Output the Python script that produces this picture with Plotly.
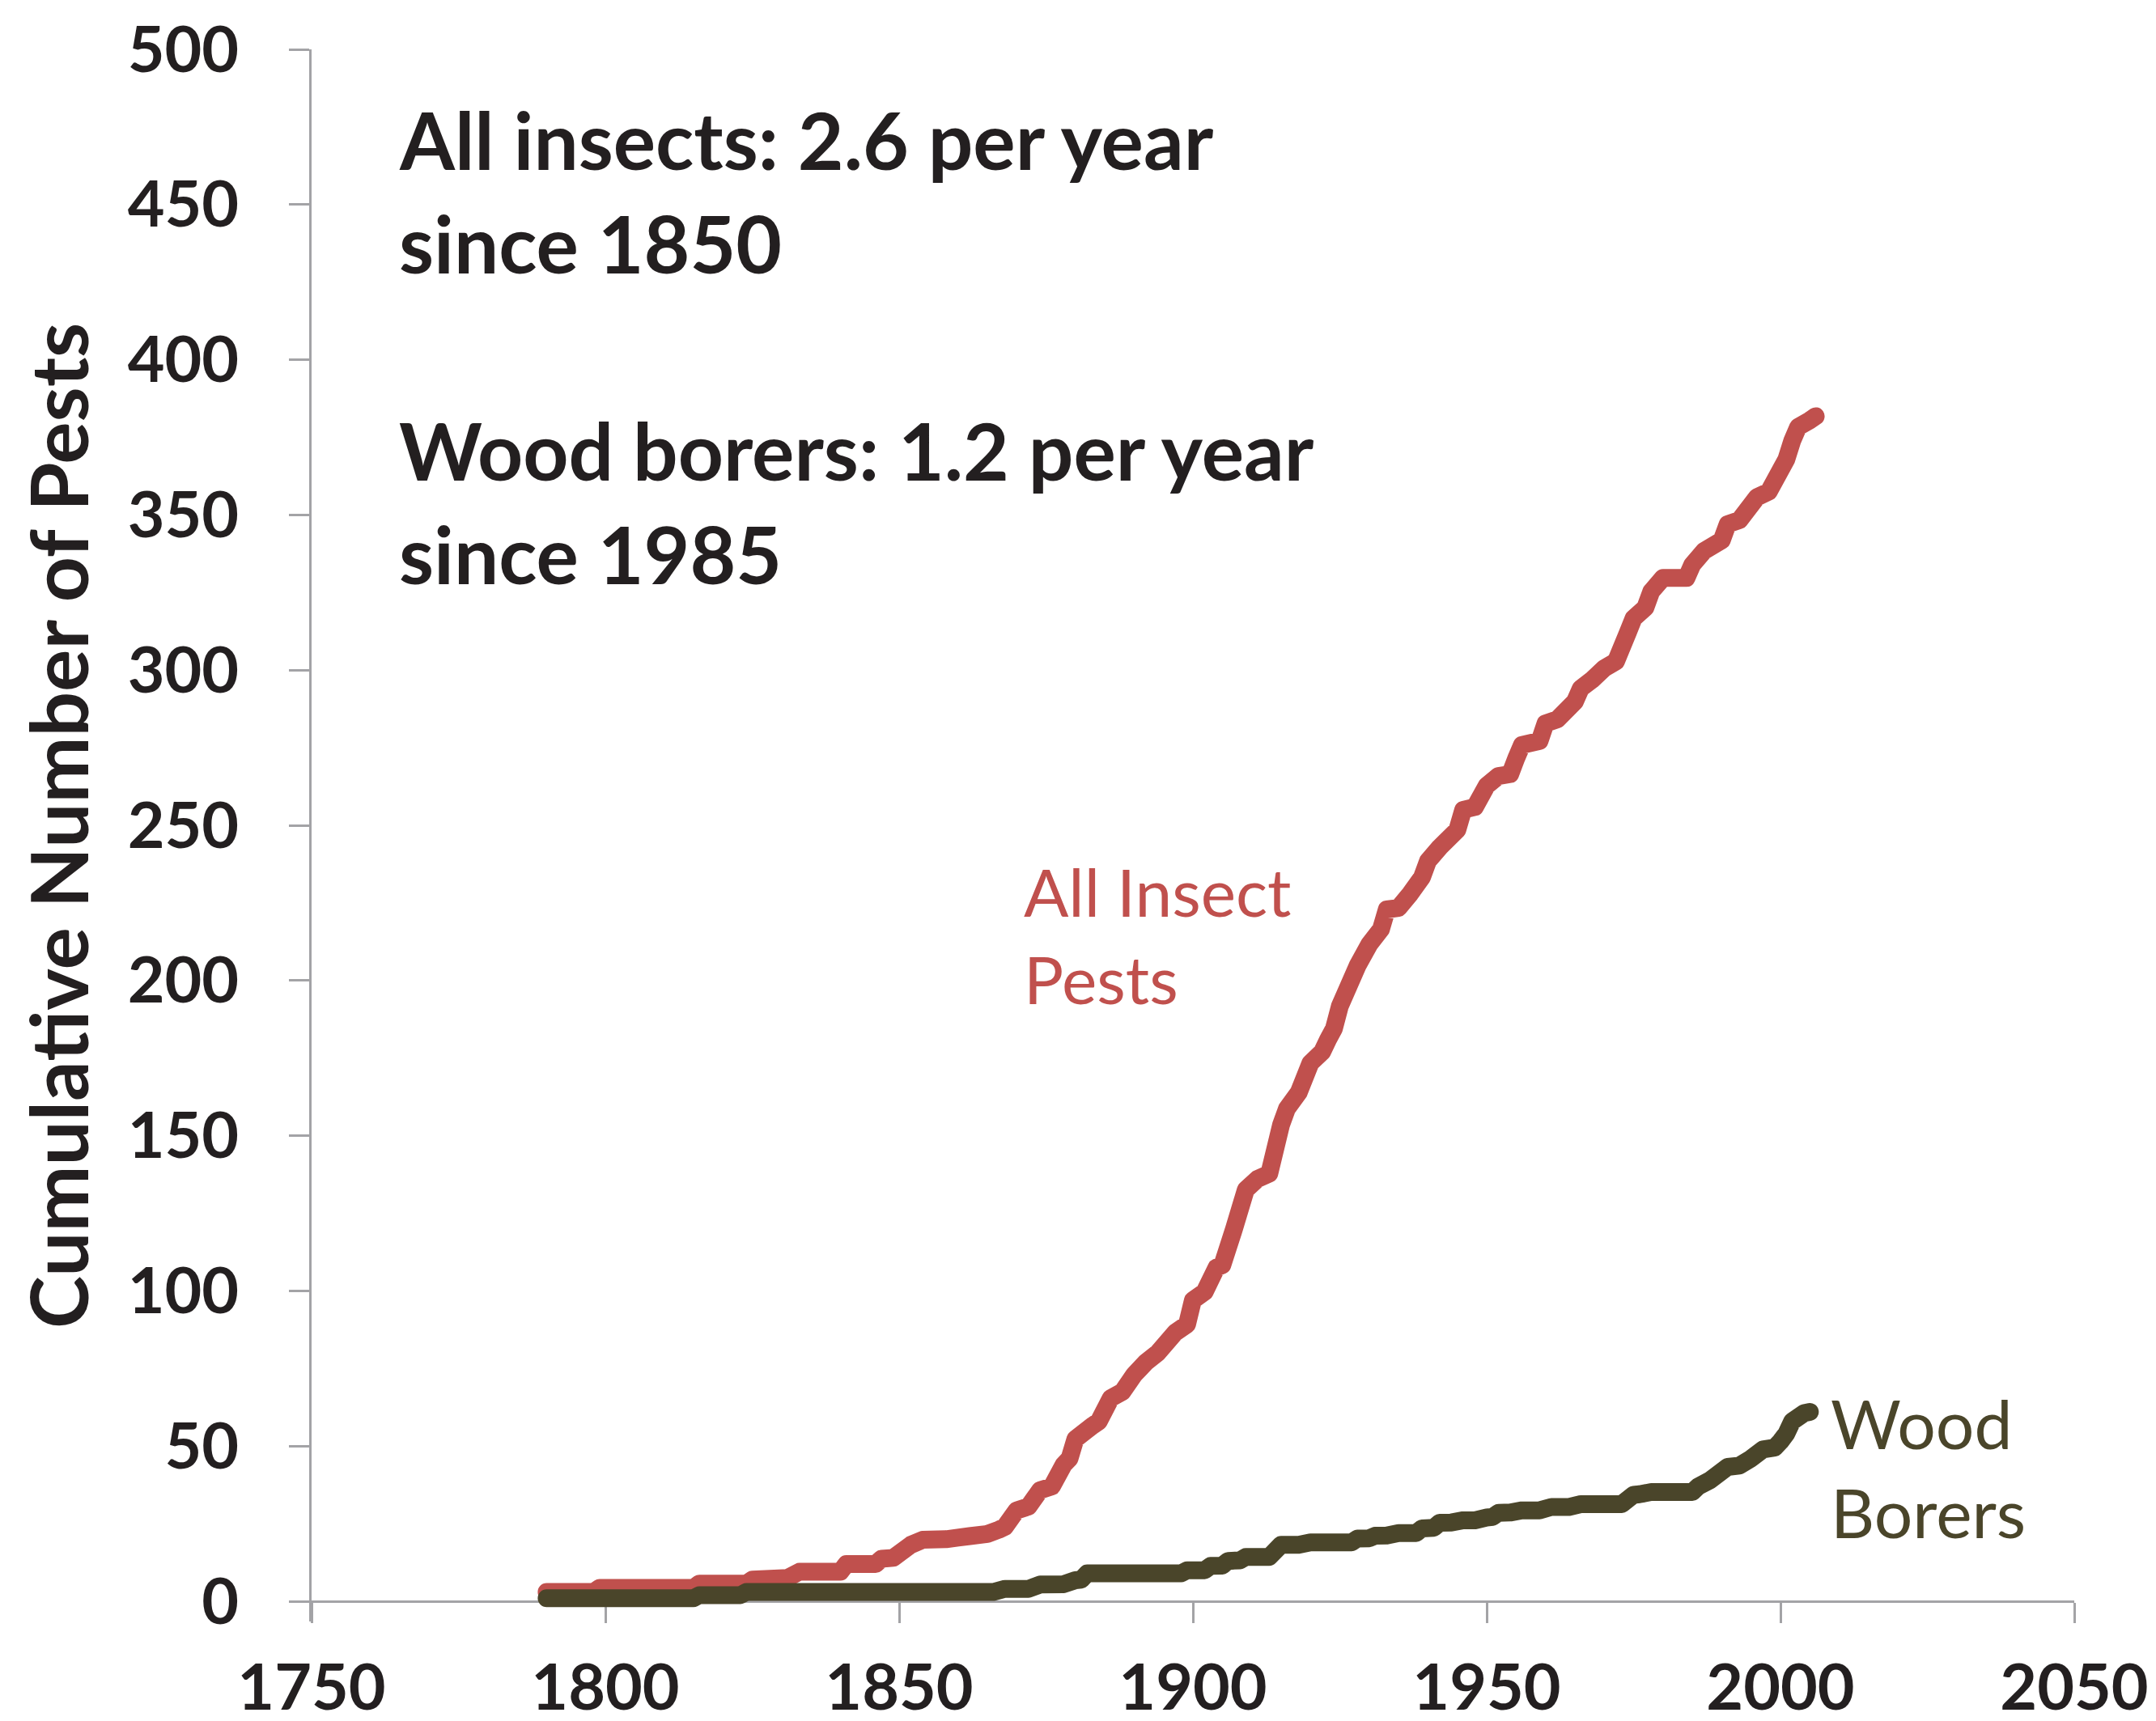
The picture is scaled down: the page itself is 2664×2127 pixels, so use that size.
import plotly.graph_objects as go

# ---- data ----
insect_years = [1790, 1798, 1799, 1815, 1816, 1824, 1825, 1831, 1833, 1840, 1841, 1846, 1847, 1849,
                1852, 1854, 1858, 1860, 1862, 1865, 1867, 1868, 1870, 1872, 1874, 1876, 1878, 1879,
                1880, 1883, 1884, 1886, 1888, 1890, 1891, 1892, 1894, 1897, 1899, 1900, 1902, 1904,
                1905, 1907, 1909, 1911, 1913, 1915, 1916, 1918, 1920, 1922, 1923, 1924, 1925, 1928,
                1930, 1932, 1933, 1935, 1937, 1939, 1940, 1942, 1945, 1946, 1948, 1950, 1952, 1954,
                1955, 1956, 1959, 1960, 1962, 1965, 1966, 1968, 1970, 1972, 1974, 1975, 1977, 1978,
                1980, 1984, 1985, 1987, 1990, 1991, 1993, 1996, 1998, 2001, 2002, 2003, 2005, 2006]
insect_values = [3, 3, 4.3, 4.3, 5.7, 5.7, 7, 7.5, 9.5, 9.5, 12, 12, 13.7, 14,
                 18.2, 19.8, 20, 20.5, 21, 21.7, 23.1, 24, 29.3, 30.5, 35.8, 37, 44, 46,
                 52.3, 56.7, 58, 65.4, 67.5, 73, 75, 77, 80, 86.6, 89.2, 97, 99.7, 107.5,
                 108.3, 120, 132.6, 136.1, 137.8, 153.5, 158.7, 163.9, 173.4, 177, 181, 184.5, 191.7, 204.7,
                 211.6, 216.5, 222.9, 223.4, 228, 233.3, 238.5, 242.9, 248.5, 255, 255.9, 262.8, 265.9, 266.5,
                 271.5, 275.9, 277.2, 282.8, 284.1, 289.8, 294.1, 297, 300.6, 302.8, 312, 316.7, 320.1, 325.3,
                 329.7, 329.7, 334, 338.4, 341.8, 347, 348.3, 355.7, 357.5, 367.9, 373.9, 378.3, 380.5, 381.8]

borer_years = [1790, 1815, 1816, 1823, 1824, 1866, 1868, 1872, 1874, 1878, 1880, 1881, 1882, 1898,
               1899, 1902, 1903, 1905, 1906, 1908, 1909, 1913, 1915, 1918, 1920, 1927, 1928, 1930,
               1931, 1933, 1935, 1938, 1939, 1941, 1942, 1944, 1946, 1948, 1950, 1951, 1952, 1954,
               1956, 1959, 1961, 1964, 1966, 1973, 1975, 1976, 1978, 1985, 1986, 1988, 1991, 1993,
               1995, 1997, 1999, 2000, 2001, 2002, 2004, 2005]
borer_values = [1, 1, 2, 2, 3, 3, 4, 4, 5.4, 5.5, 6.8, 7, 9, 9,
                10, 10, 11.4, 11.5, 13, 13.2, 14.3, 14.3, 18.2, 18.2, 19, 19, 20.2, 20.3,
                21.1, 21.2, 22, 22, 23.5, 23.7, 25.3, 25.4, 26.1, 26.1, 27, 27.2, 28.5, 28.6,
                29.3, 29.3, 30.4, 30.4, 31.3, 31.3, 34.3, 34.5, 35.2, 35.2, 37, 39, 43.3, 43.7,
                46, 48.9, 49.5, 51.5, 54, 58, 60.6, 61]

y_ticks = [0, 50, 100, 150, 200, 250, 300, 350, 400, 450, 500]
x_ticks = [1750, 1800, 1850, 1900, 1950, 2000, 2050]

# ---- layout geometry ----
W, H = 2664, 2127
L, R, T, B = 377, 109, 53, 131
Y_MIN, Y_MAX = -6.5, 500
PW, PH = W - L - R, H - T - B

RED = "#C0504D"
OLIVE = "#4A452A"
DARK = "#231F20"
GRAY = "#A3A3A6"
FONT = "Lato"


def px_x(X):
    return (X - L) / PW


def px_y(Y):
    return (H - B - Y) / PH


fig = go.Figure()
fig.add_trace(go.Scatter(x=insect_years, y=insect_values, mode="lines",
                         line=dict(color=RED, width=22, simplify=False),
                         showlegend=False, hoverinfo="skip"))
fig.add_trace(go.Scatter(x=borer_years, y=borer_values, mode="lines",
                         line=dict(color=OLIVE, width=22, simplify=False),
                         showlegend=False, hoverinfo="skip"))

axis_common = dict(showgrid=False, zeroline=False, showline=True, linecolor=GRAY, linewidth=3,
                   ticks="outside", ticklen=25, tickwidth=3, tickcolor=GRAY,
                   tickfont=dict(family=FONT, size=79, color=DARK, weight="bold"),
                   ticklabeloverflow="allow", layer="below traces")

fig.update_layout(
    width=W, height=H,
    margin=dict(l=L, r=R, t=T, b=B, autoexpand=False),
    paper_bgcolor="white", plot_bgcolor="white",
    xaxis=dict(range=[1750, 2050], tickvals=x_ticks, anchor="free",
               position=(0 - Y_MIN) / (Y_MAX - Y_MIN), ticklabelstandoff=12, **axis_common),
    yaxis=dict(range=[Y_MIN, Y_MAX], tickvals=y_ticks, ticklabelstandoff=46, **axis_common),
)

annos = [
    # (text, left px, middle px, size, color, bold)
    ("All insects: 2.6 per year", 483, 164, 98, DARK, True),
    ("since 1850", 483, 292, 98, DARK, True),
    ("Wood borers: 1.2 per year", 483, 548, 98, DARK, True),
    ("since 1985", 483, 676, 98, DARK, True),
    ("All Insect", 1255, 1093, 82, RED, False),
    ("Pests", 1255, 1201, 82, RED, False),
    ("Wood", 2252, 1750, 84, OLIVE, False),
    ("Borers", 2252, 1860, 84, OLIVE, False),
]
for text, X, Y, size, color, bold in annos:
    fig.add_annotation(text=text, xref="paper", yref="paper", x=px_x(X), y=px_y(Y),
                       xanchor="left", yanchor="middle", showarrow=False,
                       font=dict(family=FONT, size=size, color=color,
                                 weight="bold" if bold else "normal"))

fig.add_annotation(text="Cumulative Number of Pests", xref="paper", yref="paper",
                   x=px_x(63), y=px_y(1013), xanchor="center", yanchor="middle",
                   textangle=-90, showarrow=False,
                   font=dict(family=FONT, size=98, color=DARK, weight="bold"))

post = ("document.querySelectorAll('.js-line').forEach(function(p){"
        "p.style.strokeLinejoin='round';p.style.strokeLinecap='round';});")
fig.write_html("out.html", post_script=post)
